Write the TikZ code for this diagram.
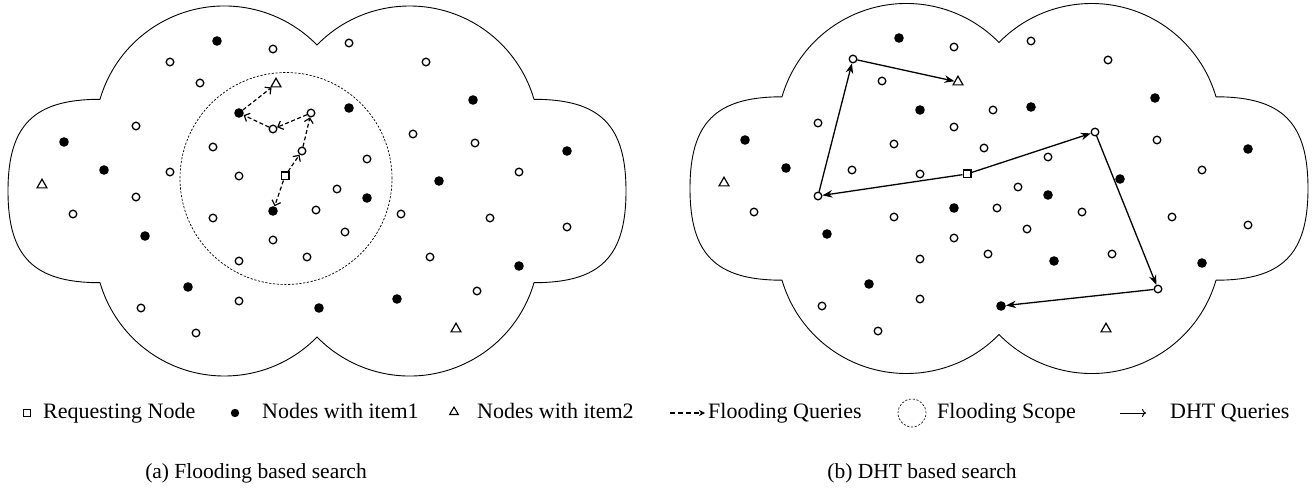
\documentclass[tikz,border=0pt]{standalone}
\usepackage{fontspec}
\setmainfont{Liberation Serif}
\usetikzlibrary{shapes.geometric,arrows.meta}
\tikzset{
  opn/.style={circle,draw,line width=1.3pt,minimum size=7.6pt,inner sep=0pt},
  fil/.style={circle,fill=black,minimum size=9.6pt,inner sep=0pt},
  tri/.style={regular polygon,regular polygon sides=3,draw,line width=1.2pt,minimum size=11.5pt,inner sep=0pt},
  sqr/.style={rectangle,draw,line width=1.2pt,minimum size=7.8pt,inner sep=0pt},
  cloudline/.style={draw,line width=0.9pt},
  scopeline/.style={draw,line width=0.7pt,dash pattern=on 2.2pt off 1.6pt},
  flood/.style={draw,line width=1.2pt,dash pattern=on 4pt off 2.5pt,-{Straight Barb[length=4.5pt,width=9pt,line width=1.2pt]}},
  dht/.style={draw,line width=1.3pt,-{Stealth[length=10pt,width=7.5pt]}},
  lab/.style={anchor=base west,inner sep=0pt,font=\fontsize{22}{26}\selectfont},
  captext/.style={anchor=base,inner sep=0pt,font=\fontsize{21.5}{26}\selectfont},
}
\newcommand{\cloudshape}{%
  (-217,91.7)
  arc[start angle=163.76, end angle=44.34, radius=129.53pt]
  arc[start angle=135.66, end angle=16.24, radius=129.53pt]
  .. controls (283.2,91.7) and (309,66) .. (309,0)
  .. controls (309,-66) and (283.2,-91.7) .. (217,-91.7)
  arc[start angle=-16.24, end angle=-135.66, radius=129.53pt]
  arc[start angle=-44.34, end angle=-163.76, radius=129.53pt]
  .. controls (-283.2,-91.7) and (-309,-66) .. (-309,0)
  .. controls (-309,66) and (-283.2,91.7) .. (-217,91.7) -- cycle}
\begin{document}
\begin{tikzpicture}[x=1pt,y=1pt]
\useasboundingbox (0,0) rectangle (1315,-492);
% clouds
\begin{scope}[shift={(317,-191)}]
  \path[cloudline] \cloudshape;
\end{scope}
\begin{scope}[shift={(999,-188.5)}]
  \path[cloudline] \cloudshape;
\end{scope}
% flooding scope
\node[circle,scopeline,minimum size=212pt,inner sep=0pt] (scope) at (286,-178.5) {};
% ---------- panel (a) ----------
\foreach \x/\y [count=\i] in {273/49,170/62,200/83,136/126,213/147,170/172,239/176,136/197,316/210,73/214,213/218,349/43,426/62,413/134,475/143,367/159,519/172,337/189,401/214,490/218,273/240,239/261,307/257,239/301,141/308,196/333,345/232,567/227,430/257,477/291}
  \node[opn] (ao\i) at (\x,-\y) {};
\foreach \x/\y [count=\i] in {217/41,64/142,104/170,349/108,473/100,567/151,439/181,367/198,145/236,188/287,319/308,519/266,397/299}
  \node[fil] (af\i) at (\x,-\y) {};
\node[tri] (at1) at (42,-185) {};
\node[tri] (at2) at (456,-329) {};
\node[sqr] (aS) at (285,-176) {};
\node[opn] (aA) at (302,-151) {};
\node[opn] (aB) at (311,-113) {};
\node[opn] (aC) at (273,-129) {};
\node[fil] (aD) at (239,-113) {};
\node[tri] (aE) at (276,-84) {};
\node[fil] (aF) at (273,-211) {};
\path[flood] (aS) -- (aA);
\path[flood] (aA) -- (aB);
\path[flood] (aB) -- (aC);
\path[flood] (aC) -- (aD);
\path[flood] (aD) -- (aE);
\path[flood] (aS) -- (aF);
% ---------- panel (b) ----------
\foreach \x/\y [count=\i] in {954/47,882/81,954/127,818/123,894/144,984/148,852/170,920/174,754/212,894/217,1031/41,1108/60,993/110,1157/140,1048/157,1202/170,1018/187,997/208,1082/212,1172/217,954/238,920/259,920/299,822/306,878/331,1027/229,1248/225,988/254,1112/254}
  \node[opn] (bo\i) at (\x,-\y) {};
\foreach \x/\y [count=\i] in {899/38,920/110,745/140,786/168,954/208,1155/98,1031/107,1248/149,1120/179,1048/195,827/234,869/284,1054/261,1202/263}
  \node[fil] (bf\i) at (\x,-\y) {};
\node[tri] (bt1) at (724,-183) {};
\node[tri] (bt2) at (1106,-329) {};
\node[sqr] (bS) at (967,-174) {};
\node[opn] (bP1) at (818,-196) {};
\node[opn] (bP2) at (853,-59) {};
\node[tri] (bT) at (958,-82) {};
\node[opn] (bQ1) at (1095,-132) {};
\node[opn] (bQ2) at (1158,-289) {};
\node[fil] (bR) at (1001,-306) {};
\path[dht] (bS) -- (bP1);
\path[dht] (bP1) -- (bP2);
\path[dht] (bP2) -- (bT);
\path[dht] (bS) -- (bQ1);
\path[dht] (bQ1) -- (bQ2);
\path[dht] (bQ2) -- (bR);
% ---------- legend ----------
\node[sqr,minimum size=6.8pt,line width=1pt] (lsq) at (27,-413) {};
\node[lab] (lt1) at (43,-418) {Requesting Node};
\node[fil,minimum size=8.4pt] (ldot) at (235,-413) {};
\node[lab] (lt2) at (262,-418) {Nodes with item1};
\node[tri,minimum size=10pt,line width=1.1pt] (ltri) at (454,-412) {};
\node[lab] (lt3) at (477,-418) {Nodes with item2};
\coordinate (lfa) at (670,-413);
\coordinate (lfb) at (705,-413);
\path[draw,line width=1.1pt,dash pattern=on 5pt off 3pt,-{Stealth[length=6pt,width=6pt]}] (lfa) -- (lfb);
\node[lab] (lt4) at (708,-418) {Flooding Queries};
\node[circle,scopeline,line width=0.6pt,minimum width=28pt,inner sep=0pt] (lsc) at (912,-413) {};
\node[lab] (lt5) at (937,-418) {Flooding Scope};
\coordinate (lda) at (1120,-413);
\coordinate (ldb) at (1146,-413);
\path[draw,line width=1pt,-{To[length=4pt,width=8pt]}] (lda) -- (ldb);
\node[lab] (lt6) at (1170,-418) {DHT Queries};
% captions
\node[captext] (capa) at (256,-478) {(a) Flooding based search};
\node[captext] (capb) at (922,-478) {(b) DHT based search};
\end{tikzpicture}
\end{document}
